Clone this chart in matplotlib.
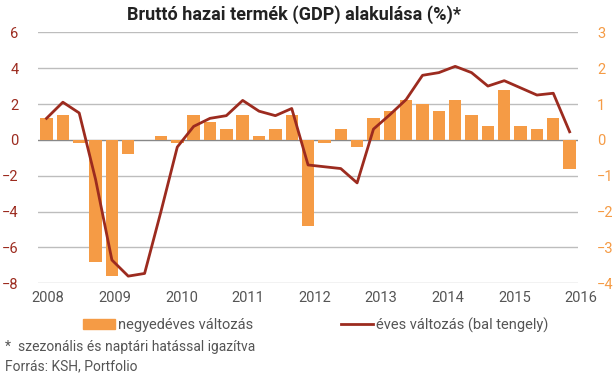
import numpy as np
import matplotlib as mpl
from matplotlib import pyplot as plt
from matplotlib.patches import Patch
from matplotlib.lines import Line2D

# data
years = ['2008', '2009', '2010', '2011', '2012', '2013', '2014', '2015', '2016']
quarterly = [0.6, 0.7, -0.1, -3.4, -3.8, -0.4, 0.0, 0.1,
             -0.1, 0.7, 0.5, 0.3, 0.7, 0.1, 0.3, 0.7,
             -2.4, -0.1, 0.3, -0.2, 0.6, 0.8, 1.1, 1.0,
             0.8, 1.1, 0.7, 0.4, 1.4, 0.4, 0.3, 0.6,
             -0.8]
annual = [1.2, 2.1, 1.5, -2.2, -6.7, -7.6, -7.45, -4.0,
          -0.4, 0.75, 1.2, 1.35, 2.2, 1.6, 1.35, 1.75,
          -1.4, -1.5, -1.6, -2.4, 0.6, 1.4, 2.25, 3.6,
          3.75, 4.1, 3.75, 3.0, 3.3, 2.9, 2.5, 2.6,
          0.45]

ORANGE = '#F59B45'
DARKRED = '#9C2B1F'
GRID = '#BDBDBD'
TEXT = '#555555'

plt.rcParams['font.family'] = ['Roboto', 'DejaVu Sans']

fig = plt.figure(figsize=(6.16, 3.78), dpi=100)
ax = fig.add_axes([0.0617, 0.2505, 0.8763, 0.6641])
ax2 = ax.twinx()

x = np.arange(len(quarterly))

# left axis: line, right axis: bars (bars drawn behind line)
ax.set_zorder(ax2.get_zorder() + 1)
ax.patch.set_visible(False)

ax2.bar(x, quarterly, width=0.76, color=ORANGE, zorder=2)
ax2.set_ylim(-4, 3)
ax2.set_yticks(np.arange(-4, 4, 1))
ax.plot(x, annual, color=DARKRED, lw=2, zorder=3)
ax.set_ylim(-8, 6)
ax.set_yticks(np.arange(-8, 7, 2))
ax.set_xlim(-0.52, 32.5)

for y in np.arange(-8, 7, 2):
    ax2.axhline(y / 2, color=GRID if y != 0 else '#888888', lw=1, zorder=1)

ax.set_xticks([])
for a in (ax, ax2):
    for s in a.spines.values():
        s.set_visible(False)
ax.tick_params(axis='y', length=0, pad=14, labelsize=10.5, labelcolor=DARKRED)
ax2.tick_params(axis='y', length=0, pad=14, labelsize=10.5, labelcolor=ORANGE)

# year labels
tr = mpl.transforms.blended_transform_factory(ax.transData, ax.transAxes)
for xp, yr in zip(np.linspace(0.1, 32.7, len(years)), years):
    ax.text(xp, -0.06, yr, transform=tr, ha='center', va='center',
            fontsize=10.5, color=TEXT, clip_on=False)

fig.text(0.477, 0.962, 'Bruttó hazai termék (GDP) alakulása (%)*', ha='center', va='center',
         fontsize=13, fontweight='bold', color='#222222')

handles = [Patch(color=ORANGE), Line2D([], [], color=DARKRED, lw=2)]
fig.legend(handles, ['negyedéves változás', 'éves változás (bal tengely)'],
           loc='center', bbox_to_anchor=(0.512, 0.14), ncol=2, frameon=False,
           fontsize=10.5, labelcolor=TEXT, handlelength=2.2, handleheight=0.7,
           handletextpad=0.2, columnspacing=6.0)

fig.text(0.008, 0.082, '*  szezonális és naptári hatással igazítva', fontsize=10, color=TEXT, va='center')
fig.text(0.008, 0.032, 'Forrás: KSH, Portfolio', fontsize=10, color=TEXT, va='center')

fig.savefig('out.png', dpi=100)
